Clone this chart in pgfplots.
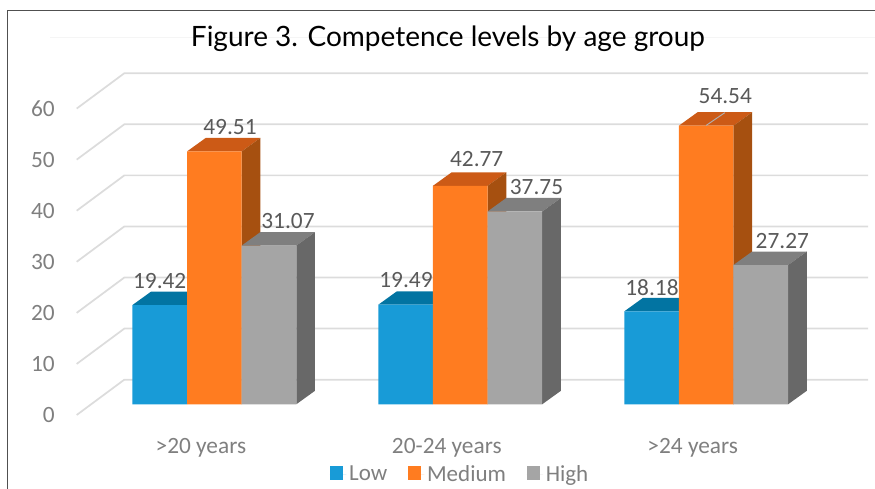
\documentclass[border=0pt]{standalone}
\usepackage{pgfplots}
\pgfplotsset{compat=1.18}
\usepackage{fontspec}
\setmainfont{Carlito}
\newfontfamily\titlefont{Lato}
\definecolor{bluefront}{HTML}{189BD7}
\definecolor{bluetop}{HTML}{0274A2}
\definecolor{orangefront}{HTML}{FF7C20}
\definecolor{orangetop}{HTML}{CC5A16}
\definecolor{orangeside}{HTML}{A65010}
\definecolor{greyfront}{HTML}{A5A5A5}
\definecolor{greytop}{HTML}{7F7F7F}
\definecolor{greyside}{HTML}{686868}
\definecolor{gridc}{HTML}{DCDCDC}
\definecolor{ticktext}{HTML}{7F7F7F}
\definecolor{valtext}{HTML}{595959}
\definecolor{framec}{HTML}{505050}
\begin{document}
% picture units are reference pixels, y measured from the bottom (489 - py)
\begin{tikzpicture}[x=0.75pt,y=0.75pt]
\useasboundingbox (0,0) rectangle (875,489);
\draw[white!96!black,line width=0.75pt] (50,451) -- (875,451);
\coordinate (origin) at (66.8,64.3);
\begin{axis}[
  at={(origin)}, anchor=south west,
  scale only axis, width=603.075pt, height=268.125pt,
  xmin=-0.6, xmax=2.67, ymin=-4, ymax=66,
  axis line style={draw=none}, major tick length=0pt,
  xtick={0,1,2}, xticklabels={>20 years,20-24 years,>24 years},
  ytick={-2.1,7.9,17.9,27.9,37.9,47.9,57.9}, yticklabels={0,10,20,30,40,50,60},
  tick label style={font=\fontsize{17.5}{20}\selectfont,text=ticktext},
  xticklabel style={anchor=base,yshift=-21.4pt,xshift=-10.1pt},
  yticklabel style={inner sep=0pt,xshift=-8.85pt},
  legend columns=3,
  legend style={at={(0.4896,-0.138)},anchor=center,draw=none,fill=none,inner sep=0pt,
    font=\fontsize{17.25}{20}\selectfont,text=ticktext,
    /tikz/every even column/.append style={column sep=13.5pt}},
  legend image code/.code={\fill[#1] (0pt,-4.1pt) rectangle (10.1pt,6pt);
    \path (0pt,0pt) -- (12.35pt,0pt);},
]
% wall and floor gridlines
\addplot[forget plot,gridc,line width=1.3pt] coordinates {(-0.5598,-2.1) (-0.366,4.82) (2.6586,4.82)};
\addplot[forget plot,gridc,line width=1.3pt] coordinates {(-0.5598,7.9) (-0.366,14.82) (2.6586,14.82)};
\addplot[forget plot,gridc,line width=1.3pt] coordinates {(-0.5598,17.9) (-0.366,24.82) (2.6586,24.82)};
\addplot[forget plot,gridc,line width=1.3pt] coordinates {(-0.5598,27.9) (-0.366,34.82) (2.6586,34.82)};
\addplot[forget plot,gridc,line width=1.3pt] coordinates {(-0.5598,37.9) (-0.366,44.82) (2.6586,44.82)};
\addplot[forget plot,gridc,line width=1.3pt] coordinates {(-0.5598,47.9) (-0.366,54.82) (2.6586,54.82)};
\addplot[forget plot,gridc,line width=1.3pt] coordinates {(-0.5598,57.9) (-0.366,64.82) (2.6586,64.82)};
% low
\addplot[forget plot,draw=none,fill=bluetop] coordinates {(-0.3333,19.42) (-0.1111,19.42) (-0.0351,22.06) (-0.2573,22.06)};
\addplot[forget plot,draw=none,fill=bluetop] coordinates {(0.6667,19.49) (0.8889,19.49) (0.9649,22.13) (0.7427,22.13)};
\addplot[forget plot,draw=none,fill=bluetop] coordinates {(1.6667,18.18) (1.8889,18.18) (1.9649,20.82) (1.7427,20.82)};
\addplot[ybar,bar width=40.95pt,bar shift=-40.95pt,draw=none,fill=bluefront] coordinates {(0,19.42) (1,19.49) (2,18.18)};
\addlegendentry{Low}
% medium
\addplot[forget plot,draw=none,fill=orangetop] coordinates {(-0.1111,49.51) (0.1111,49.51) (0.1871,52.15) (-0.0351,52.15)};
\addplot[forget plot,draw=none,fill=orangeside] coordinates {(0.1111,0) (0.1871,2.64) (0.1871,52.15) (0.1111,49.51)};
\addplot[forget plot,draw=none,fill=orangetop] coordinates {(0.8889,42.77) (1.1111,42.77) (1.1871,45.41) (0.9649,45.41)};
\addplot[forget plot,draw=none,fill=orangeside] coordinates {(1.1111,0) (1.1871,2.64) (1.1871,45.41) (1.1111,42.77)};
\addplot[forget plot,draw=none,fill=orangetop] coordinates {(1.8889,54.54) (2.1111,54.54) (2.1871,57.18) (1.9649,57.18)};
\addplot[forget plot,draw=none,fill=orangeside] coordinates {(2.1111,0) (2.1871,2.64) (2.1871,57.18) (2.1111,54.54)};
\addplot[ybar,bar width=40.95pt,bar shift=0pt,draw=none,fill=orangefront] coordinates {(0,49.51) (1,42.77) (2,54.54)};
\addlegendentry{Medium}
% high
\addplot[forget plot,draw=none,fill=greytop] coordinates {(0.1111,31.07) (0.3333,31.07) (0.4093,33.71) (0.1871,33.71)};
\addplot[forget plot,draw=none,fill=greyside] coordinates {(0.3333,0) (0.4093,2.64) (0.4093,33.71) (0.3333,31.07)};
\addplot[forget plot,draw=none,fill=greytop] coordinates {(1.1111,37.75) (1.3333,37.75) (1.4093,40.39) (1.1871,40.39)};
\addplot[forget plot,draw=none,fill=greyside] coordinates {(1.3333,0) (1.4093,2.64) (1.4093,40.39) (1.3333,37.75)};
\addplot[forget plot,draw=none,fill=greytop] coordinates {(2.1111,27.27) (2.3333,27.27) (2.4093,29.91) (2.1871,29.91)};
\addplot[forget plot,draw=none,fill=greyside] coordinates {(2.3333,0) (2.4093,2.64) (2.4093,29.91) (2.3333,27.27)};
\addplot[ybar,bar width=40.95pt,bar shift=40.95pt,draw=none,fill=greyfront] coordinates {(0,31.07) (1,37.75) (2,27.27)};
\addlegendentry{High}
% leader line of the 54.54 label
\addplot[forget plot,color=gridc!80!black,line width=0.7pt] coordinates {(2.0,54.6) (2.076,57.1)};
\end{axis}
% value labels
\begin{scope}[every node/.style={text=valtext,font=\fontsize{17.5}{20}\selectfont,inner sep=0pt}]
\node at (159.7,208.3) {19.42};
\node at (230,362) {49.51};
\node at (288,267.7) {31.07};
\node at (406,209) {19.49};
\node at (476.7,330.3) {42.77};
\node at (536.5,301.7) {37.75};
\node at (652,201.7) {18.18};
\node at (725.3,393) {54.54};
\node at (782.3,248.3) {27.27};
\end{scope}
\node[anchor=base,inner sep=0pt,font=\titlefont\fontsize{21}{25}\selectfont] at (448,442) {Figure 3. Competence levels by age group};
\draw[framec,line width=0.75pt] (7.4,0) -- (7.4,478.4) -- (875,478.4);
\end{tikzpicture}
\end{document}
